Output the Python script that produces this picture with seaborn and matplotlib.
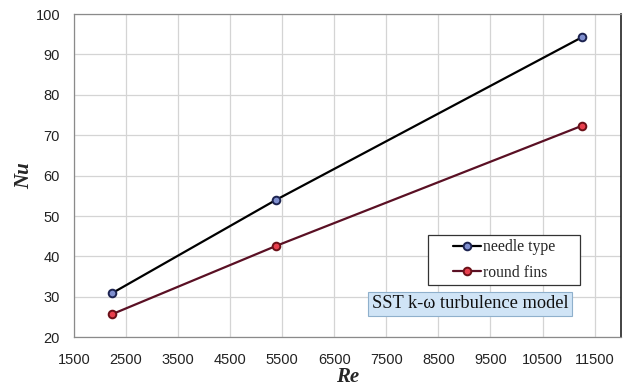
import matplotlib
matplotlib.use("Agg")
import matplotlib.pyplot as plt
from matplotlib.patches import Rectangle
import seaborn as sns
import pandas as pd

# Reynolds numbers and Nusselt numbers for the two fin geometries
re_values = [2230, 5380, 11250]
nu_needle = [30.9, 54.0, 94.2]
nu_round = [25.7, 42.6, 72.3]
series_names = ["needle type", "round fins"]
x_ticks = [1500, 2500, 3500, 4500, 5500, 6500, 7500, 8500, 9500, 10500, 11500]
y_ticks = [20, 30, 40, 50, 60, 70, 80, 90, 100]

df = pd.DataFrame({
    "Re": re_values * 2,
    "Nu": nu_needle + nu_round,
    "fin": [series_names[0]] * len(re_values) + [series_names[1]] * len(re_values),
})

sns.set_theme(style="white")
plt.rcParams["font.family"] = ["Liberation Sans", "DejaVu Sans"]

fig = plt.figure(figsize=(6.25, 3.89), dpi=100)
ax = fig.add_axes([0.1184, 0.133, 0.8746, 0.831])

palette = {series_names[0]: "#000000", series_names[1]: "#5a1024"}
sns.lineplot(data=df, x="Re", y="Nu", hue="fin", palette=palette, ax=ax,
             linewidth=1.6, legend=False, zorder=3)

marker_style = {
    series_names[0]: dict(mfc="#7f8fcf", mec="#1c2350"),
    series_names[1]: dict(mfc="#e8404e", mec="#6a1018"),
}
for name, vals in zip(series_names, [nu_needle, nu_round]):
    ax.plot(re_values, vals, linestyle="none", marker="o", markersize=5.5,
            markeredgewidth=1.4, zorder=4, **marker_style[name])

ax.set_xlim(1500, 12000)
ax.set_ylim(20, 100)
ax.set_xticks(x_ticks)
ax.set_yticks(y_ticks)
ax.grid(True, color="#d4d4d4", linewidth=0.9)
ax.set_axisbelow(True)
ax.tick_params(axis="both", labelsize=10.5, colors="#222222", length=0)
ax.tick_params(axis="y", pad=10)
ax.tick_params(axis="x", pad=11)

for side in ["left", "bottom", "top"]:
    ax.spines[side].set_color("#8a8a8a")
    ax.spines[side].set_linewidth(0.9)
ax.spines["right"].set_color("#222222")
ax.spines["right"].set_linewidth(1.2)

ax.set_xlabel("Re", fontsize=15, fontweight="bold", fontstyle="italic",
              family="Liberation Serif", labelpad=0)
ax.set_ylabel("Nu", fontsize=15, fontweight="bold", fontstyle="italic",
              family="Liberation Serif", labelpad=1)

# Legend frame drawn as its own box; the entries sit centred inside it
ax.add_patch(Rectangle((0.6475, 0.162), 0.278, 0.1544, transform=ax.transAxes,
                       facecolor="white", edgecolor="#333333", linewidth=0.9,
                       zorder=5))
handles = [
    plt.Line2D([], [], color=palette[n], linewidth=1.6, marker="o", markersize=5.5,
               markeredgewidth=1.4, **marker_style[n])
    for n in series_names
]
leg = ax.legend(handles, series_names, loc="center",
                bbox_to_anchor=(0.7866, 0.239), frameon=False,
                prop={"family": "Liberation Serif", "size": 11.3},
                handlelength=1.8, handletextpad=0.1, borderpad=0,
                labelspacing=0.6, borderaxespad=0)
leg.set_zorder(6)

ax.text(0.7243, 0.103, "SST k-ω turbulence model", transform=ax.transAxes,
        fontsize=13.2, family="Liberation Serif", color="#111111", va="center",
        ha="center", zorder=5,
        bbox=dict(boxstyle="square,pad=0.2", facecolor="#d0e4f6",
                  edgecolor="#8fb0cc", linewidth=0.8))

fig.savefig("out.png", dpi=100)
